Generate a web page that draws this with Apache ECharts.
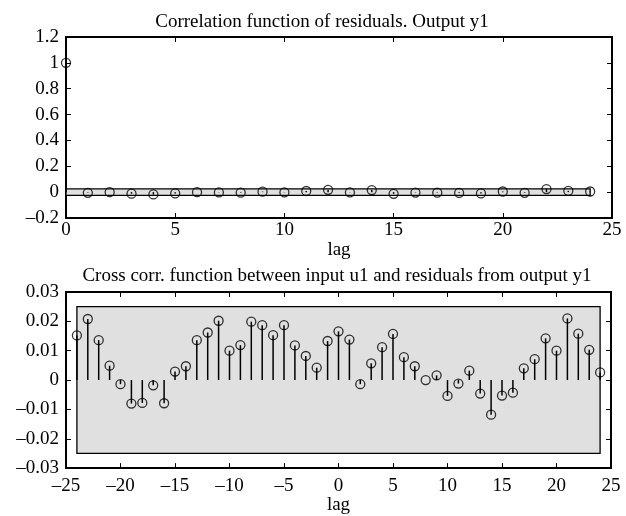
<!DOCTYPE html>
<html><head><meta charset="utf-8">
<script src="https://cdn.jsdelivr.net/npm/echarts@6/dist/echarts.min.js"></script>
<style>html,body{margin:0;padding:0;background:#fff}#c{width:626px;height:516px}</style>
</head><body><div id="c"></div>
<script>
// ---- data ----
const autoLags = [0,1,2,3,4,5,6,7,8,9,10,11,12,13,14,15,16,17,18,19,20,21,22,23,24];
const autoValues = [1,-0.005,0,-0.012,-0.018,-0.01,0,-0.002,-0.004,0.004,-0.002,0.009,0.018,-0.002,0.016,-0.013,-0.003,-0.004,-0.006,-0.01,0.005,-0.005,0.024,0.01,0.005];
const autoBandX = [0, 24];
const autoBandY = [-0.025, 0.025];

const crossLags = [-24,-23,-22,-21,-20,-19,-18,-17,-16,-15,-14,-13,-12,-11,-10,-9,-8,-7,-6,-5,-4,-3,-2,-1,0,1,2,3,4,5,6,7,8,9,10,11,12,13,14,15,16,17,18,19,20,21,22,23,24];
const crossValues = [0.0152,0.0208,0.0136,0.0049,-0.0014,-0.008,-0.0078,-0.0018,-0.0079,0.0029,0.0047,0.0136,0.0162,0.0202,0.010,0.0119,0.0199,0.0187,0.0153,0.0187,0.0118,0.0082,0.0042,0.0133,0.0166,0.0138,-0.0014,0.0057,0.0112,0.0157,0.0078,0.0047,0.0,0.0016,-0.0054,-0.0012,0.0032,-0.0046,-0.0118,-0.0053,-0.0043,0.004,0.0071,0.0142,0.010,0.021,0.0158,0.0103,0.0026];
const crossBandX = [-24, 24];
const crossBandY = [-0.025, 0.025];

const titles = ['Correlation function of residuals. Output y1', 'Cross corr. function between input u1 and residuals from output y1'];
const xName = 'lag';

// ---- chart ----
const FONT = 'Liberation Serif';
const txt = {fontFamily: FONT, fontSize: 19, color: '#000'};
const fmt = v => {
  let s = (Math.round(v * 1000) / 1000).toString();
  return s.replace('-', '\u2013');
};
function xAx(grid, min, max, pos, labels, margin, nameGap) {
  return {
    type: 'value', gridIndex: grid, min: min, max: max, interval: 5, position: pos,
    axisLine: {show: false, onZero: false},
    axisTick: {show: true, inside: true, length: 5, lineStyle: {color: '#000', width: 1}},
    axisLabel: {show: labels, ...txt, margin: margin, formatter: fmt},
    splitLine: {show: false},
    name: labels ? xName : '', nameLocation: 'middle', nameGap: nameGap, nameTextStyle: {...txt, verticalAlign: 'top'}
  };
}
function yAx(grid, min, max, interval, pos, labels) {
  return {
    type: 'value', gridIndex: grid, min: min, max: max, interval: interval, position: pos,
    axisLine: {show: false, onZero: false},
    axisTick: {show: true, inside: true, length: 5, lineStyle: {color: '#000', width: 1}},
    axisLabel: {show: labels, ...txt, margin: 7, formatter: fmt},
    splitLine: {show: false}
  };
}
function band(bx, by) {
  return {
    silent: true,
    itemStyle: {color: '#e0e0e0', borderColor: '#000', borderWidth: 1.3},
    data: [[{coord: [bx[0], by[0]]}, {coord: [bx[1], by[1]]}]]
  };
}
const autoData = autoLags.map((l, i) => [l, autoValues[i]]);
const crossData = crossLags.map((l, i) => [l, crossValues[i]]);

const chart = echarts.init(document.getElementById('c'), null, {renderer: 'canvas'});
chart.setOption({
  animation: false,
  backgroundColor: '#fff',
  title: [
    {text: titles[0], left: 322, top: 13, textAlign: 'center', padding: 0, textStyle: {...txt, fontWeight: 'normal'}},
    {text: titles[1], left: 337, top: 267, textAlign: 'center', padding: 0, textStyle: {...txt, fontWeight: 'normal'}}
  ],
  grid: [
    {left: 66, top: 37, width: 546, height: 181, show: true, borderColor: '#000', borderWidth: 2, backgroundColor: 'transparent'},
    {left: 66, top: 292, width: 545, height: 180, show: true, borderColor: '#000', borderWidth: 2, backgroundColor: 'transparent'}
  ],
  xAxis: [
    xAx(0, 0, 25, 'bottom', true, 3, 17),
    xAx(0, 0, 25, 'top', false, 3, 17),
    xAx(1, -25, 25, 'bottom', true, 8, 26),
    xAx(1, -25, 25, 'top', false, 8, 26)
  ],
  yAxis: [
    yAx(0, -0.2, 1.2, 0.2, 'left', true),
    yAx(0, -0.2, 1.2, 0.2, 'right', false),
    yAx(1, -0.03, 0.03, 0.01, 'left', true),
    yAx(1, -0.03, 0.03, 0.01, 'right', false)
  ],
  series: [
    {type: 'bar', xAxisIndex: 0, yAxisIndex: 0, data: autoData, barWidth: 1.5,
     itemStyle: {color: '#000'}, markArea: band(autoBandX, autoBandY), z: 3},
    {type: 'scatter', xAxisIndex: 0, yAxisIndex: 0, data: autoData, symbol: 'circle', symbolSize: 9, clip: false,
     itemStyle: {color: 'rgba(0,0,0,0)', borderColor: '#000', borderWidth: 1.3}, z: 4},
    {type: 'bar', xAxisIndex: 2, yAxisIndex: 2, data: crossData, barWidth: 1.5,
     itemStyle: {color: '#000'}, markArea: band(crossBandX, crossBandY), z: 3},
    {type: 'scatter', xAxisIndex: 2, yAxisIndex: 2, data: crossData, symbol: 'circle', symbolSize: 9, clip: false,
     itemStyle: {color: 'rgba(0,0,0,0)', borderColor: '#000', borderWidth: 1.3}, z: 4}
  ]
});
</script></body></html>
